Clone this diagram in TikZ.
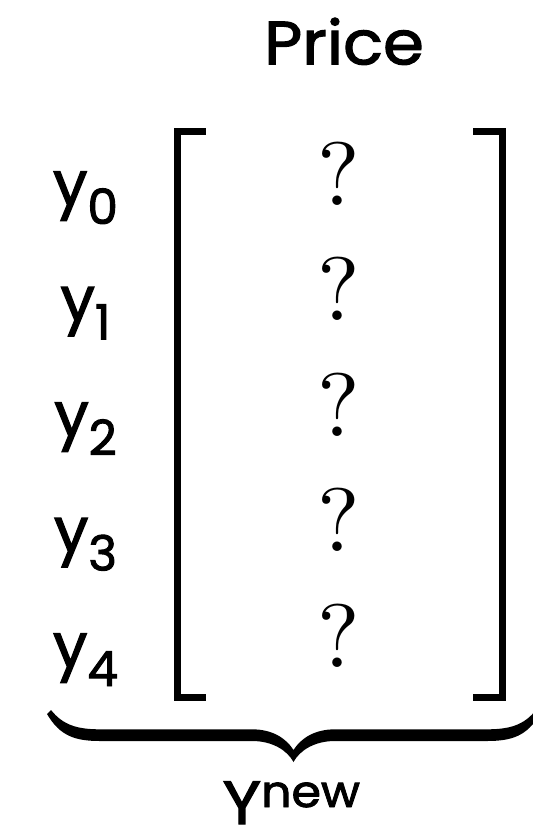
\documentclass[tikz,border=0pt]{standalone}
\usepackage{fontspec}
\newfontfamily\labelfont[FakeBold=2]{Poppins}
\newfontfamily\widefont[FakeBold=2, FakeStretch=1.08]{Poppins}
\font\qmarkfont=cmr10 at 90pt

% sizes of the text styles
\newcommand{\bigsans}{\labelfont\fontsize{61}{61}\selectfont}
\newcommand{\widesans}{\widefont\fontsize{61}{61}\selectfont}
\newcommand{\subsans}{\labelfont\fontsize{48.5}{48.5}\selectfont}
\newcommand{\supsans}{\widefont\fontsize{44}{44}\selectfont}
\newcommand{\qmark}{\qmarkfont ?}
\newcommand{\rowlabel}[1]{y\raisebox{-19pt}{\subsans #1}}

\tikzset{
  heading/.style={anchor=base, inner sep=0pt, font=\widesans},
  rowname/.style={anchor=base, inner sep=0pt, font=\bigsans},
  entry/.style={anchor=base, inner sep=0pt},
  bracketline/.style={line width=7pt, miter limit=10, line join=miter},
}

\begin{document}
\begin{tikzpicture}[x=1pt, y=-1pt]
  \useasboundingbox (0,0) rectangle (533,831);

  % column heading
  \node[heading] (price) at (344,64.3) {Price};

  % row names and unknown entries
  \foreach \i/\b in {0/205, 1/320.5, 2/436, 3/551.5, 4/667} {
    \node[rowname] (y\i) at (85.5,\b) {\rowlabel{\i}};
    \node[entry] (q\i) at (338.3,\b) {\qmark};
  }

  % square brackets of the column vector
  \coordinate (tl) at (177.5,131.2);
  \coordinate (bl) at (177.5,697);
  \coordinate (tr) at (502.2,131.2);
  \coordinate (br) at (502.2,697);
  \draw[bracketline] ([xshift=28.2pt]tl) -- (tl) -- (bl) -- ([xshift=28.2pt]bl);
  \draw[bracketline] ([xshift=-28.9pt]tr) -- (tr) -- (br) -- ([xshift=-28.9pt]br);

  % underbrace
  \coordinate (tip) at (293.5,762);
  \fill
    (47,714) .. controls (60,736) and (75,741) .. (100,741)
    -- (252,741) .. controls (272,741) and (287,750) .. (tip)
    .. controls (300,750) and (315,741) .. (335,741)
    -- (487,741) .. controls (512,741) and (527,736) .. (540,714)
    -- (536,710)
    .. controls (524,725) and (510,729.3) .. (487,729.3)
    -- (335,729.3) .. controls (315,729.3) and (301,738) .. (293.5,750)
    .. controls (286,738) and (272,729.3) .. (252,729.3)
    -- (100,729.3) .. controls (77,729.3) and (63,725) .. (51,710)
    -- cycle;

  % name of the vector
  \node[heading] (ynew) at (291.3,824) {Y\raisebox{17pt}{\supsans new}};
\end{tikzpicture}
\end{document}
